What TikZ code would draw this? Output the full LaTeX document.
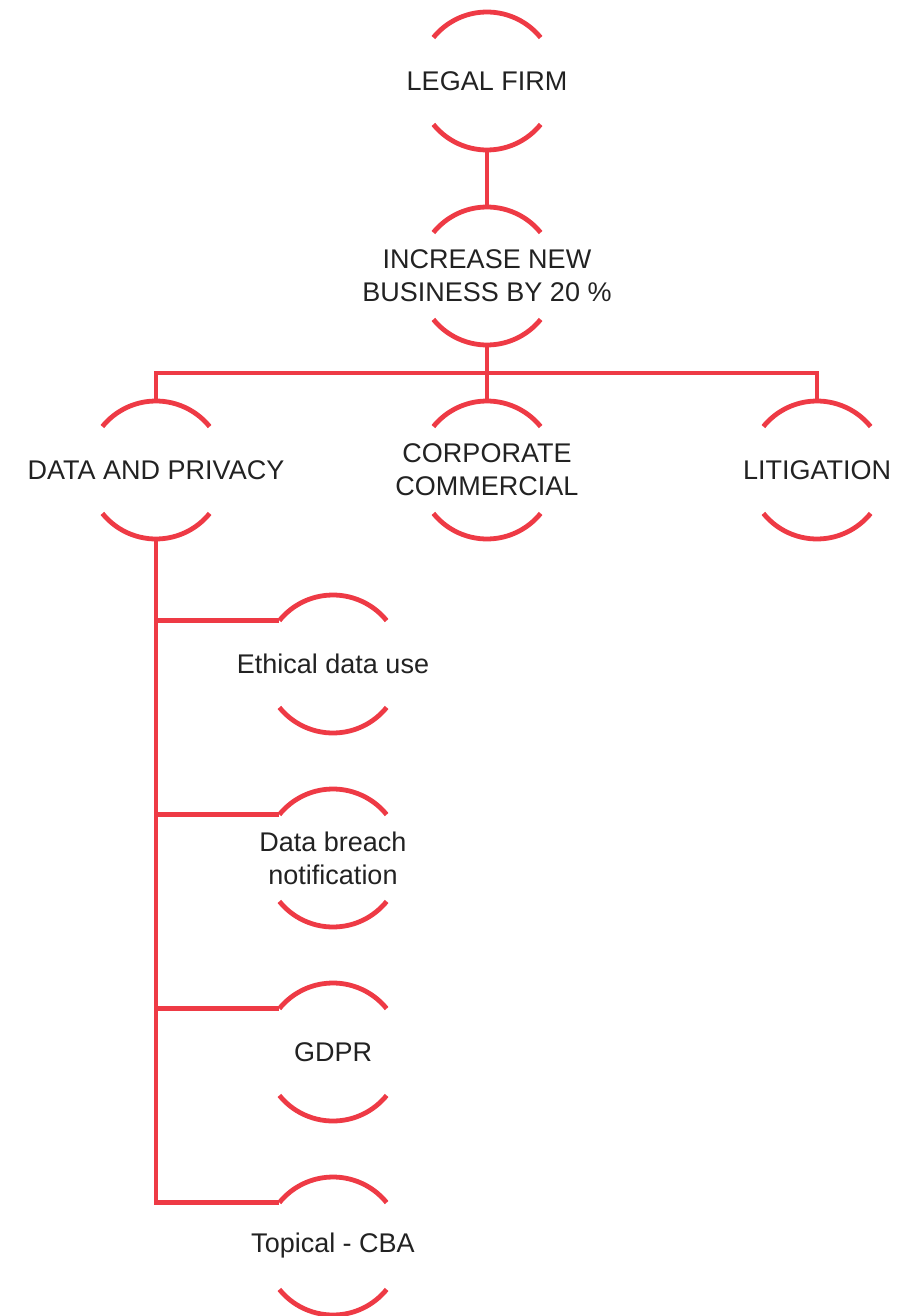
\documentclass[tikz,border=0pt]{standalone}
\usepackage{fontspec}
\setmainfont{Liberation Sans}
\definecolor{ringred}{HTML}{EE3A45}
\definecolor{inkgray}{HTML}{222222}
\begin{document}
\begin{tikzpicture}[x=1pt,y=1pt,
  ring/.style={draw=ringred,line width=4.8pt,line cap=butt},
  wire/.style={draw=ringred,line width=4.8pt,line cap=butt,line join=miter},
  topic/.style={inner sep=0pt,align=center,text=inkgray,
    font=\fontsize{27}{33}\selectfont}]
\useasboundingbox (0,0) rectangle (900,-1316);
% open circles: only the top and bottom arcs are drawn
\newcommand\halo[1]{%
  \draw[ring] ([shift={(39:69)}]#1.center) arc[start angle=39,end angle=141,radius=69];
  \draw[ring] ([shift={(219:69)}]#1.center) arc[start angle=219,end angle=321,radius=69];}
\node[topic] (lf)  at (487,-81)  {LEGAL FIRM};
\node[topic] (inc) at (487,-276) {INCREASE NEW\\BUSINESS BY 20 \%};
\node[topic] (dp)  at (156,-470) {DATA AND PRIVACY};
\node[topic] (cc)  at (487,-470) {CORPORATE\\COMMERCIAL};
\node[topic] (lit) at (817,-470) {LITIGATION};
\node[topic] (eth) at (333,-664) {Ethical data use};
\node[topic] (dbn) at (333,-858) {Data breach\\notification};
\node[topic] (gd)  at (333,-1052) {GDPR};
\node[topic] (tc)  at (333,-1246) {Topical - CBA};
\foreach \n in {lf,inc,dp,cc,lit,eth,dbn,gd,tc}{\halo{\n}}
% entry points on the upper left end of each sub-topic arc
\foreach \n in {eth,dbn,gd,tc}{\coordinate (\n-in) at ([shift={(141:69)}]\n.center);}
% connectors
\draw[wire] ([yshift=-69]lf.center) -- ([yshift=69]inc.center);
\draw[wire] ([yshift=-69]inc.center) -- ([yshift=69]cc.center);
\draw[wire] ([yshift=69]dp.center) |- ([yshift=97]lit.center) -- ([yshift=69]lit.center);
\draw[wire] ([yshift=-69]dp.center) |- (tc-in);
\foreach \n in {eth,dbn,gd}{\draw[wire] (dp.center |- \n-in) -- (\n-in);}
\end{tikzpicture}
\end{document}
